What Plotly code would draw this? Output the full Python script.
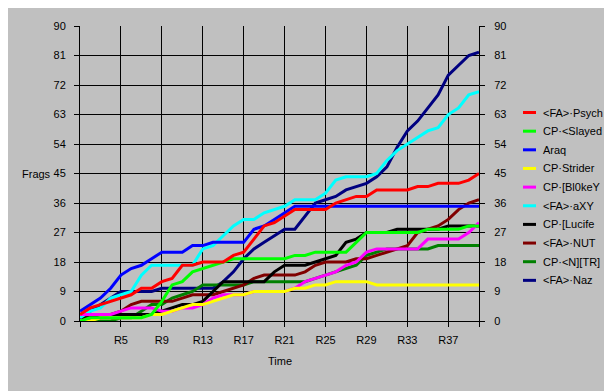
import plotly.graph_objects as go

rounds = [f"R{i}" for i in range(1, 41)]
tick_rounds = ["R1", "R5", "R9", "R13", "R17", "R21", "R25", "R29", "R33", "R37", "R40"]
tick_labels = ["", "R5", "R9", "R13", "R17", "R21", "R25", "R29", "R33", "R37", ""]
y_ticks = [0, 9, 18, 27, 36, 45, 54, 63, 72, 81, 90]

names = ["<FA>·Psych", "CP·<Slayed", "Araq", "CP·Strider", "CP·[Bl0keY",
         "<FA>·aXY", "CP·[Lucife", "<FA>·NUT", "CP·<N][TR]", "<FA>·Naz"]
colors = ["#FF0000", "#00FF00", "#0000FF", "#FFFF00", "#FF00FF",
          "#00FFFF", "#000000", "#800000", "#008000", "#000080"]

psych = [2, 4, 5, 6, 7, 8, 10, 10, 12, 13, 17, 17, 18, 18, 18, 20, 21, 25, 29, 30,
         32, 34, 34, 34, 34, 36, 37, 38, 38, 40, 40, 40, 40, 41, 41, 42, 42, 42, 43, 45]
slayed = [0, 1, 1, 1, 1, 1, 1, 2, 6, 11, 12, 15, 16, 17, 18, 19, 19, 19, 19, 19,
          19, 20, 20, 21, 21, 21, 21, 24, 27, 27, 27, 27, 27, 27, 28, 28, 28, 28, 29, 29]
araq = [3, 5, 7, 10, 14, 16, 17, 19, 21, 21, 21, 23, 23, 24, 24, 24, 24, 28, 29, 31,
        33, 35, 35, 35, 35, 35, 35, 35, 35, 35, 35, 35, 35, 35, 35, 35, 35, 35, 35, 35]
strider = [0, 0, 1, 1, 1, 1, 1, 2, 2, 3, 4, 5, 5, 6, 7, 8, 8, 9, 9, 9,
           9, 10, 10, 11, 11, 12, 12, 12, 12, 11, 11, 11, 11, 11, 11, 11, 11, 11, 11, 11]
bl0key = [2, 2, 2, 2, 3, 4, 4, 4, 3, 3, 4, 4, 5, 7, 8, 8, 8, 9, 9, 9,
          9, 10, 12, 13, 14, 15, 17, 18, 21, 22, 22, 22, 22, 22, 25, 25, 25, 25, 27, 30]
axy = [1, 3, 4, 7, 8, 9, 14, 17, 17, 17, 17, 17, 22, 23, 26, 29, 31, 31, 33, 34,
       35, 37, 37, 37, 39, 43, 44, 44, 44, 45, 49, 52, 54, 56, 58, 59, 63, 65, 69, 70]
lucife = [1, 1, 2, 2, 2, 2, 2, 2, 3, 4, 5, 5, 6, 9, 12, 12, 12, 12, 12, 15,
          17, 17, 17, 18, 19, 20, 24, 25, 27, 27, 27, 28, 28, 28, 28, 28, 29, 29, 29, 29]
nut = [1, 1, 1, 2, 3, 5, 6, 6, 6, 6, 7, 8, 8, 8, 9, 10, 11, 13, 14, 14,
       14, 14, 15, 17, 18, 18, 18, 19, 19, 20, 21, 22, 23, 27, 28, 29, 31, 34, 36, 37]
ntr = [0, 0, 0, 0, 1, 1, 3, 5, 5, 7, 8, 9, 11, 11, 11, 11, 11, 12, 12, 12,
       12, 12, 12, 13, 14, 15, 16, 17, 20, 21, 22, 22, 22, 22, 22, 23, 23, 23, 23, 23]
naz = [1, 3, 5, 7, 9, 9, 9, 9, 10, 10, 10, 10, 10, 10, 12, 15, 19, 22, 24, 26,
       28, 28, 32, 36, 37, 38, 40, 41, 42, 44, 47, 53, 58, 61, 65, 69, 75, 78, 81, 82]

series = [psych, slayed, araq, strider, bl0key, axy, lucife, nut, ntr, naz]

# the page body adds an 8px offset, so the figure is laid out 8px smaller
OFF = 8
W, H = 612 - OFF, 391 - OFF
L, R, T, B = 80 - OFF, 479 - OFF, 22 - OFF, 321 - OFF


def px(x):
    return (x - OFF - L) / (R - L)


def py(y):
    return (B - (y - OFF)) / (B - T)


FONT = "Liberation Sans, Arial, sans-serif"
fig = go.Figure()

# later series first so earlier ones sit on top
for name, col, vals in reversed(list(zip(names, colors, series))):
    fig.add_trace(go.Scatter(x=rounds, y=vals, mode="lines", name=name,
                             line=dict(color=col, width=3), showlegend=False))

# dummy trace to carry the right-hand axis
fig.add_trace(go.Scatter(x=[rounds[0]], y=[0], yaxis="y2", mode="lines",
                         line=dict(width=0), showlegend=False, hoverinfo="skip"))

shapes = []
annotations = []
for i, (name, col) in enumerate(zip(names, colors)):
    yy = 109.7 + i * 18.9
    shapes.append(dict(type="line", xref="paper", yref="paper",
                       x0=px(523), x1=px(536), y0=py(yy), y1=py(yy),
                       line=dict(color=col, width=3)))
    annotations.append(dict(text=name, xref="paper", yref="paper",
                            x=px(541), y=py(yy), xanchor="left", yanchor="middle",
                            showarrow=False, font=dict(family=FONT, size=11, color="black")))

annotations.append(dict(text="Frags", xref="paper", yref="paper", x=px(36), y=py(172),
                        xanchor="center", yanchor="middle", showarrow=False,
                        font=dict(family=FONT, size=11, color="black")))
annotations.append(dict(text="Time", xref="paper", yref="paper", x=px(280), y=py(362),
                        xanchor="center", yanchor="middle", showarrow=False,
                        font=dict(family=FONT, size=11, color="black")))

fig.update_layout(
    width=W, height=H,
    margin=dict(l=L, r=W - R, t=T, b=H - B, pad=0),
    paper_bgcolor="#C0C0C0", plot_bgcolor="#C0C0C0",
    font=dict(family=FONT, size=11, color="black"),
    showlegend=False,
    shapes=shapes, annotations=annotations,
    xaxis=dict(type="category", categoryorder="array", categoryarray=rounds,
               range=[0, 39], tickvals=tick_rounds, ticktext=tick_labels,
               ticks="outside", ticklen=5, tickcolor="black", tickwidth=1,
               showgrid=True, gridcolor="black", gridwidth=1,
               showline=True, linecolor="black", linewidth=1, zeroline=False,
               ticklabelstandoff=4, tickfont=dict(size=11)),
    yaxis=dict(range=[0, 90], tickvals=y_ticks, ticks="outside", ticklen=5,
               tickcolor="black", showgrid=True, gridcolor="black", gridwidth=1,
               showline=True, linecolor="black", linewidth=1, zeroline=False,
               ticklabelstandoff=6, tickfont=dict(size=11)),
    yaxis2=dict(range=[0, 90], tickvals=y_ticks, overlaying="y", side="right",
                ticks="outside", ticklen=5, tickcolor="black", showgrid=False,
                showline=True, linecolor="black", linewidth=1, zeroline=False,
                ticklabelstandoff=7, tickfont=dict(size=11)),
)

fig.write_html("out.html")
